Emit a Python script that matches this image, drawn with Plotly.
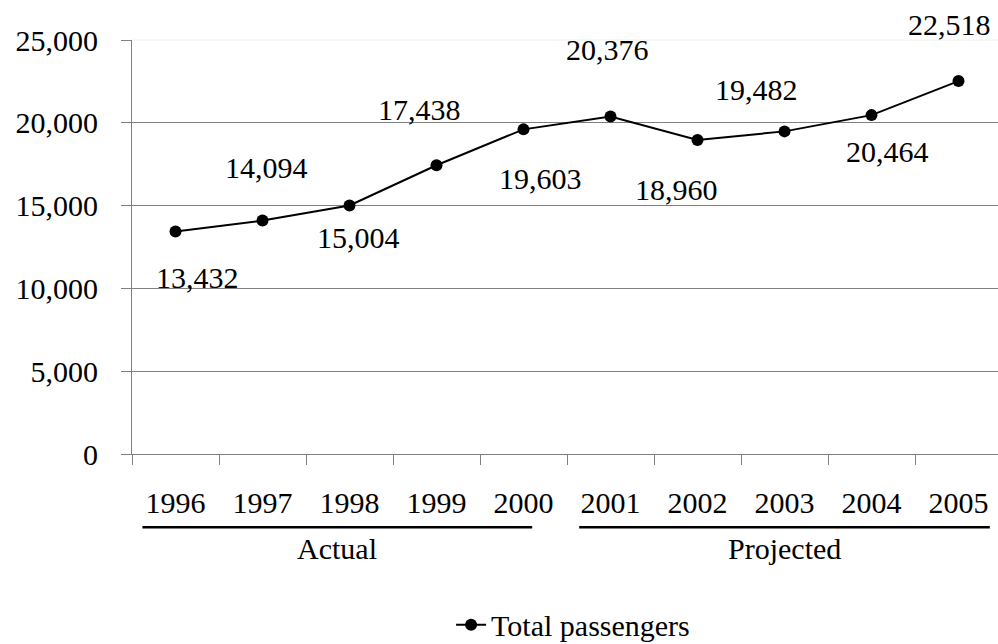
import plotly.graph_objects as go

# Passenger totals, actual 1996-2000 and projected 2001-2005
years = ["1996", "1997", "1998", "1999", "2000",
         "2001", "2002", "2003", "2004", "2005"]
passengers = [13432, 14094, 15004, 17438, 19603,
              20376, 18960, 19482, 20464, 22518]
groups = ["Actual", "Projected"]
series_name = "Total passengers"
y_ticks = [0, 5000, 10000, 15000, 20000, 25000]

# Label placement offsets (pixels) around each point
label_dx = [22, 4, 9, -17, 17, -3, -21, -28, 16, -9]
label_dy = [46, -53, 32, -56, 49, -67, 49, -42, 36, -57]

FONT = "Liberation Serif, Times New Roman, serif"
GREY = "#808080"

fig = go.Figure()
fig.add_trace(go.Scatter(
    x=years, y=passengers, mode="lines+markers", name=series_name,
    line=dict(color="black", width=2),
    marker=dict(color="black", size=12),
))

for i, (v, dx, dy) in enumerate(zip(passengers, label_dx, label_dy)):
    fig.add_annotation(
        x=i, y=v, xref="x", yref="y", text=f"{v:,}", showarrow=False,
        xshift=dx, yshift=-dy, yanchor="middle", xanchor="center",
        font=dict(family=FONT, size=30, color="black"),
    )

# Group captions beneath the year labels, each with an underline
group_spans = [(-0.38, 4.10), (4.64, 9.36)]
for name, (a, b) in zip(groups, group_spans):
    fig.add_shape(type="line", xref="x", yref="paper", x0=a, x1=b,
                  y0=-0.177, y1=-0.177, line=dict(color="black", width=2.5))
    fig.add_annotation(x=(a + b) / 2, y=-0.177, xref="x", yref="paper",
                       text=name, showarrow=False, yanchor="top", yshift=-3,
                       font=dict(family=FONT, size=30, color="black"))

# the top gridline is barely visible
fig.add_shape(type="line", xref="x domain", yref="y domain", x0=0, x1=1,
              y0=1, y1=1, line=dict(color="#f0f0f0", width=1), layer="above")

fig.update_layout(
    width=998, height=644,
    margin=dict(l=132, r=0, t=40, b=190),
    paper_bgcolor="white", plot_bgcolor="white",
    font=dict(family=FONT, size=30, color="black"),
    showlegend=True,
    legend=dict(orientation="h", xref="container", yref="container",
                x=0.452, xanchor="left", y=0.03, yanchor="middle",
                font=dict(family=FONT, size=30, color="black"),
                itemwidth=30, tracegroupgap=0),
)
fig.update_xaxes(
    type="category", range=[-0.5, 9.454],
    showline=True, linecolor=GREY, linewidth=1,
    ticks="outside", tickson="boundaries", ticklen=10, tickcolor=GREY,
    showgrid=False, ticklabelstandoff=22,
    tickfont=dict(family=FONT, size=30, color="black"),
)
fig.update_yaxes(
    range=[0, 25000], tickvals=y_ticks, tickformat=",",
    showline=True, linecolor=GREY, linewidth=1,
    ticks="outside", ticklen=10, tickcolor=GREY,
    showgrid=True, gridcolor=GREY, gridwidth=1, zeroline=False,
    ticklabelstandoff=17,
    tickfont=dict(family=FONT, size=30, color="black"),
)

fig.write_html("out.html")
